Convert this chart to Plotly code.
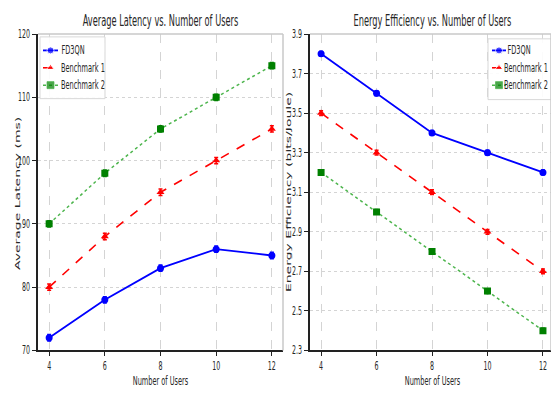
import plotly.graph_objects as go

users = [4, 6, 8, 10, 12]

latency_fd3qn = [72, 78, 83, 86, 85]
latency_bench1 = [80, 88, 95, 100, 105]
latency_bench2 = [90, 98, 105, 110, 115]
latency_err = [0.5, 0.5, 0.5, 0.5, 0.5]

energy_fd3qn = [3.8, 3.6, 3.4, 3.3, 3.2]
energy_bench1 = [3.5, 3.3, 3.1, 2.9, 2.7]
energy_bench2 = [3.2, 3.0, 2.8, 2.6, 2.4]
energy_err = [0.012, 0.012, 0.012, 0.012, 0.012]

series_names = ["FD3QN", "Benchmark 1", "Benchmark 2"]

W, H = 551, 396
FONT = "DejaVu Sans, sans-serif"
TXT = "#262626"

styles = [
    dict(color="#0000ff", linecolor="#0000ff", dash="solid", width=1.8, symbol="circle", size=7),
    dict(color="#ff0000", linecolor="#ff0000", dash="dash", width=1.6, symbol="triangle-up", size=7),
    dict(color="#008000", linecolor="rgba(0,150,0,0.7)", dash="dot", width=1.5, symbol="square", size=7),
]

fig = go.Figure()


def add_panel(values, err, xa, ya):
    for name, ys, st in zip(series_names, values, styles):
        fig.add_trace(go.Scatter(
            x=users, y=ys, name=name, mode="lines+markers",
            line=dict(color=st["linecolor"], dash=st["dash"], width=st["width"]),
            marker=dict(color=st["color"], symbol=st["symbol"], size=st["size"]),
            error_y=dict(type="data", array=err, color=st["color"], thickness=1.5, width=2),
            xaxis=xa, yaxis=ya, showlegend=False,
        ))


add_panel([latency_fd3qn, latency_bench1, latency_bench2], latency_err, "x", "y")
add_panel([energy_fd3qn, energy_bench1, energy_bench2], energy_err, "x2", "y2")

ydom = [1 - 356 / H, 1 - 28 / H]
x1dom = [38 / W, 283 / W]
x2dom = [310 / W, 1.0]

axis_common = dict(
    showline=True, linecolor="#222222", linewidth=1.5,
    ticks="outside", ticklen=4, tickcolor="#222222",
    tickfont=dict(family=FONT, size=11.5, color=TXT),
    showgrid=True, gridcolor="#d4d4d4", gridwidth=1,
    zeroline=False, fixedrange=True,
)

fig.update_layout(
    width=W, height=H,
    margin=dict(l=0, r=0, t=0, b=0),
    paper_bgcolor="white", plot_bgcolor="rgba(0,0,0,0)",
    showlegend=False,
    xaxis=dict(domain=x1dom, range=[3.6, 12.4], tickvals=users, griddash="dash",
               anchor="y", **axis_common),
    yaxis=dict(domain=ydom, range=[70, 120], tickvals=[70, 80, 90, 100, 110, 120],
               griddash="dot", anchor="x", **axis_common),
    xaxis2=dict(domain=x2dom, range=[3.6, 12.29], tickvals=users, griddash="dash",
                anchor="y2", **axis_common),
    yaxis2=dict(domain=ydom, range=[2.3, 3.9], tickvals=[2.3, 2.5, 2.7, 2.9, 3.1, 3.3, 3.5, 3.7, 3.9],
                ticktext=["2.3", "2.5", "2.7", "2.9", "3.1", "3.3", "3.5", "3.7", "3.9"],
                griddash="dot", anchor="x2", **axis_common),
    # overlay in pixel units, used for the legend boxes
    xaxis3=dict(domain=[0, 1], range=[0, W], visible=False, fixedrange=True, anchor="y3"),
    yaxis3=dict(domain=[0, 1], range=[H, 0], visible=False, fixedrange=True, anchor="x3"),
)

# light top/right frame lines
for xr, yr in (("x domain", "y domain"), ("x2 domain", "y2 domain")):
    fig.add_shape(type="line", xref=xr, yref=yr, x0=0, x1=1, y0=1, y1=1,
                  line=dict(color="#c8c8c8", width=1.5))
    fig.add_shape(type="line", xref=xr, yref=yr, x0=1, x1=1, y0=0, y1=1,
                  line=dict(color="#c8c8c8", width=1.5))

# legend boxes: box (left, top, right, bottom), key line x0/x1, row ys, label centres
legends = [
    dict(box=(40, 31, 105, 95), key=(43, 58), rows=(45, 63, 81), labels=(73, 83, 83)),
    dict(box=(488, 33, 560, 96), key=(492, 506), rows=(45, 63, 81), labels=(519, 526, 526)),
]
for lg in legends:
    bx0, by0, bx1, by1 = lg["box"]
    fig.add_shape(type="rect", xref="x3", yref="y3", x0=bx0, y0=by0, x1=bx1, y1=by1,
                  layer="below", fillcolor="rgba(255,255,255,0.9)",
                  line=dict(color="#d8d8d8", width=1))
    kx0, kx1 = lg["key"]
    for name, st, ry, lx in zip(series_names, styles, lg["rows"], lg["labels"]):
        fig.add_trace(go.Scatter(
            x=[kx0, (kx0 + kx1) / 2, kx1], y=[ry, ry, ry], mode="lines+markers",
            line=dict(color=st["linecolor"], dash=st["dash"], width=st["width"]),
            marker=dict(color=st["color"], symbol=st["symbol"], size=[0, st["size"], 0]),
            xaxis="x3", yaxis="y3", showlegend=False, hoverinfo="skip",
        ))
        fig.add_annotation(xref="paper", yref="paper", x=lx / W, y=1 - ry / H,
                           text=name, showarrow=False, xanchor="center", yanchor="middle",
                           font=dict(family=FONT, size=12, color=TXT))

annots = [
    dict(text="Average Latency vs. Number of Users", x=160.5 / W, y=1 - 15 / H,
         font=dict(family=FONT, size=15, color=TXT)),
    dict(text="Energy Efficiency vs. Number of Users", x=432 / W, y=1 - 15 / H,
         font=dict(family=FONT, size=15, color=TXT)),
    dict(text="Number of Users", x=160.5 / W, y=1 - 388 / H,
         font=dict(family=FONT, size=12, color=TXT)),
    dict(text="Number of Users", x=432 / W, y=1 - 388 / H,
         font=dict(family=FONT, size=12, color=TXT)),
    dict(text="Average Latency (ms)", x=17 / W, y=1 - 193 / H, textangle=-90,
         font=dict(family=FONT, size=14, color=TXT)),
    dict(text="Energy Efficiency (bits/Joule)", x=288 / W, y=1 - 192 / H, textangle=-90,
         font=dict(family=FONT, size=14, color=TXT)),
]
for a in annots:
    fig.add_annotation(xref="paper", yref="paper", showarrow=False,
                       xanchor="center", yanchor="middle", **a)

# Narrow every text horizontally (vertical titles get thinner glyphs instead)
post = """
var gd = document.getElementById('{plot_id}');
function narrowText() {
  var F = 0.55;
  gd.querySelectorAll('svg text').forEach(function (t) {
    if (t.dataset.done) return;
    var w = t.getComputedTextLength();
    if (!w) return;
    t.dataset.done = '1';
    if (t.closest('[transform*="rotate(-90"]')) {
      var bb = t.getBBox();
      var cy = bb.y + bb.height / 2;
      var prev = t.getAttribute('transform') || '';
      t.setAttribute('transform', prev + ' translate(0,' + cy + ') scale(1,' + F + ') translate(0,' + (-cy) + ')');
    } else {
      t.setAttribute('lengthAdjust', 'spacingAndGlyphs');
      t.setAttribute('textLength', (w * F).toFixed(2));
    }
  });
}
narrowText();
gd.on('plotly_afterplot', narrowText);
setTimeout(narrowText, 50);
"""

fig.write_html("out.html", post_script=post)
